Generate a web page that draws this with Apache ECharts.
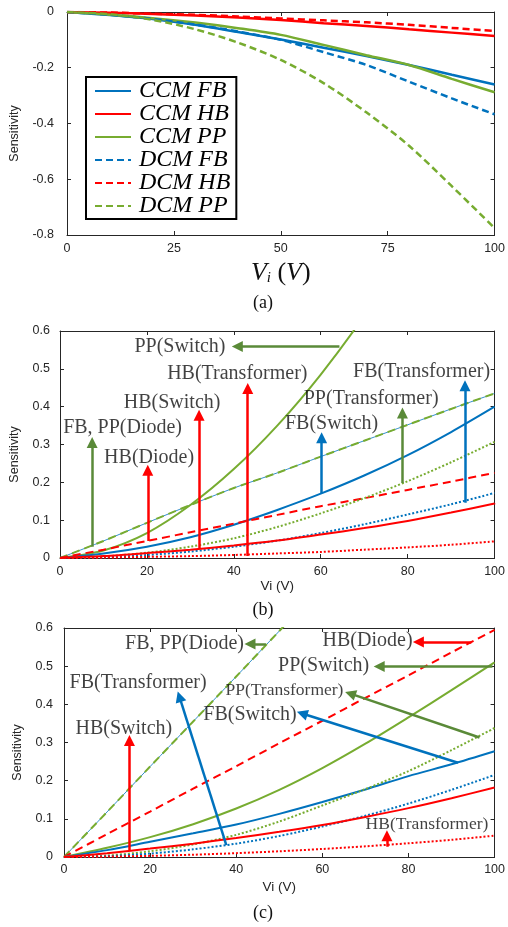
<!DOCTYPE html>
<html><head><meta charset="utf-8">
<script src="https://cdn.jsdelivr.net/npm/echarts@6/dist/echarts.min.js"></script>
<style>html,body{margin:0;padding:0;background:#fff}#c{width:508px;height:927px}</style>
</head><body><div id="c"></div>
<script>
// ---------- data ----------
const vi = [0,10,20,30,40,50,60,70,80,90,100];
// panel (a)
const aCcmFB = [0,-0.011,-0.025,-0.046,-0.072,-0.099,-0.128,-0.158,-0.19,-0.225,-0.26];
const aCcmHB = [0,-0.003,-0.007,-0.013,-0.02,-0.029,-0.04,-0.05,-0.062,-0.074,-0.086];
const aCcmPP = [0,-0.01,-0.022,-0.038,-0.058,-0.082,-0.118,-0.155,-0.19,-0.24,-0.288];
const aDcmFB = [0,-0.01,-0.025,-0.045,-0.07,-0.1,-0.144,-0.19,-0.25,-0.31,-0.367];
const aDcmHB = [0,-0.002,-0.006,-0.01,-0.016,-0.023,-0.03,-0.037,-0.046,-0.057,-0.068];
const aDcmPP = [0,-0.008,-0.028,-0.062,-0.11,-0.172,-0.255,-0.36,-0.48,-0.625,-0.775];
// panel (b)
const bCcmPP = [0,0.02,0.066,0.14,0.235,0.35,0.485,0.64,0.815,1.01,1.225];
const bDcmPP = [0,0.045,0.093,0.14,0.185,0.225,0.268,0.31,0.352,0.394,0.435];
const bCcmFB = [0,0.012,0.03,0.055,0.088,0.127,0.17,0.218,0.272,0.333,0.4];
const bDcmHB = [0,0.022,0.045,0.068,0.091,0.114,0.137,0.158,0.18,0.202,0.225];
const bDotPP = [0,0.004,0.014,0.03,0.052,0.082,0.118,0.158,0.203,0.253,0.307];
const bDotFB = [0,0.002,0.008,0.017,0.03,0.046,0.066,0.089,0.115,0.142,0.172];
const bCcmHB = [0,0.005,0.013,0.022,0.033,0.046,0.062,0.079,0.098,0.12,0.144];
const bDotHB = [0,0.001,0.003,0.005,0.008,0.012,0.016,0.022,0.028,0.035,0.044];
// panel (c)
const cDcmPP = [0,0.118,0.237,0.355,0.473,0.592,0.71,0.83,0.95,1.065,1.18];
const cDcmHB = [0,0.06,0.119,0.179,0.238,0.298,0.357,0.417,0.476,0.536,0.595];
const cCcmPP = [0,0.024,0.052,0.086,0.127,0.176,0.233,0.297,0.366,0.437,0.51];
const cCcmFB = [0,0.018,0.04,0.062,0.085,0.113,0.144,0.177,0.212,0.243,0.277];
const cDotPP = [0,0.004,0.015,0.033,0.058,0.093,0.135,0.178,0.225,0.28,0.338];
const cDotFB = [0,0.002,0.009,0.02,0.035,0.055,0.08,0.108,0.14,0.176,0.215];
const cCcmHB = [0,0.01,0.022,0.035,0.05,0.066,0.084,0.105,0.128,0.154,0.182];
const cDotHB = [0,0.001,0.003,0.006,0.01,0.015,0.021,0.028,0.036,0.045,0.056];
// annotation arrows: [type, fromX, fromY, toX, toY]
const arrowsB = [
  ['pp',7.4,0.03,7.4,0.305],
  ['hb',20.2,0.045,20.2,0.232],
  ['hb',32,0.026,32,0.377],
  ['hb',43.2,0.005,43.2,0.448],
  ['pp',64.3,0.559,40.8,0.559],
  ['fb',60.2,0.172,60.2,0.318],
  ['pp',78.8,0.198,78.8,0.383],
  ['fb',93.2,0.146,93.2,0.455]
];
const labelsB = [
  ['FB, PP(Diode)',14.4,0.344],['HB(Diode)',20.5,0.265],['HB(Switch)',25.8,0.41],
  ['HB(Transformer)',40.8,0.487],['PP(Switch)',27.6,0.559],['FB(Switch)',62.5,0.355],
  ['PP(Transformer)',71.6,0.42],['FB(Transformer)',83.2,0.491]
];
const arrowsC = [
  ['pp',46.9,0.558,43.2,0.558],
  ['hb',94.6,0.563,82.3,0.563],
  ['pp',99.5,0.499,73.2,0.499],
  ['pp',96.5,0.313,66.5,0.428],
  ['fb',37.7,0.031,26.8,0.42],
  ['fb',91.5,0.247,55.3,0.376],
  ['hb',15.2,0.018,15.2,0.305],
  ['hb',75,0.027,75,0.056]
];
const labelsC = [
  ['FB, PP(Diode)',28,0.558],['HB(Diode)',70.5,0.566],['PP(Switch)',60.3,0.5],
  ['FB(Transformer)',17.2,0.457],['FB(Switch)',43.2,0.374],['HB(Switch)',13.9,0.337]
];
const labelsCSmall = [['PP(Transformer)',51.2,0.437],['HB(Transformer)',84.3,0.086]];
const legendNames = ['CCM FB','CCM HB','CCM PP','DCM FB','DCM HB','DCM PP'];

// ---------- styles ----------
const BLUE='#0072BD', RED='#FF0000', GREEN='#77AC30';
const ARROW = {fb:'#0072BD', hb:'#FF0000', pp:'#5A8A38'};
const AX='#262626';
const SERIF='"Liberation Serif","Times New Roman",serif';
const SANS='"Liberation Sans",Arial,sans-serif';

const pts = arr => vi.map((x,i)=>[x,arr[i]]);
function line(name, arr, g, color, type, width){
  return {name, type:'line', xAxisIndex:g*2, yAxisIndex:g*2, data:pts(arr), smooth:0.3,
    symbol:'none', showSymbol:false, clip:true, silent:true, z:2,
    lineStyle:{color, width, type}, itemStyle:{color}};
}
const DASH=[7,4], DOT=[2,2];
function arrows(list, g){
  return ['fb','hb','pp'].map(k=>({type:'lines', coordinateSystem:'cartesian2d',
    xAxisIndex:g*2, yAxisIndex:g*2, z:5, silent:true,
    symbol:['none','triangle'], symbolSize:[10,11],
    lineStyle:{color:ARROW[k], width:2.5, opacity:1, curveness:0},
    data:list.filter(a=>a[0]===k).map(a=>({coords:[[a[1],a[2]],[a[3],a[4]]]}))}));
}
function labels(list, g, size){
  return {type:'scatter', xAxisIndex:g*2, yAxisIndex:g*2, symbolSize:1, z:6, silent:true,
    clip:false,
    itemStyle:{color:'rgba(0,0,0,0)'},
    label:{show:true, position:'inside', formatter:p=>p.name, color:'#111',
      fontFamily:SERIF, fontSize:size},
    data:list.map(l=>({name:l[0], value:[l[1],l[2]]}))};
}
function axesFor(g, xInt, yMin, yMax, yInt, lblMarginX, lblMarginY){
  const base = {type:'value', gridIndex:g, axisLine:{show:true, onZero:false, lineStyle:{color:AX,width:1}},
    axisTick:{show:true, inside:true, length:4, lineStyle:{color:AX}}, splitLine:{show:false}};
  const lab = m=>({show:true, color:AX, fontFamily:SANS, fontSize:12.5, margin:m,
    formatter:v=>Math.abs(v)<1e-9?'0':(Number.isInteger(v)?String(v):v.toFixed(1))});
  const xs=[Object.assign({},base,{position:'bottom', min:0,max:100,interval:xInt, axisLabel:lab(lblMarginX)}),
            Object.assign({},base,{position:'top', min:0,max:100,interval:xInt, axisLabel:{show:false}})];
  const ys=[Object.assign({},base,{position:'left', min:yMin,max:yMax,interval:yInt, axisLabel:lab(lblMarginY)}),
            Object.assign({},base,{position:'right', min:yMin,max:yMax,interval:yInt, axisLabel:{show:false}})];
  return {xs, ys};
}
const A=axesFor(0,25,-0.8,0,0.2,7,13), B=axesFor(1,20,0,0.6,0.1,7,10), C=axesFor(2,20,0,0.6,0.1,6,11);
const nameY = gap=>({name:'Sensitivity', nameLocation:'middle', nameGap:gap,
  nameTextStyle:{fontFamily:SANS, fontSize:12.5, color:AX, padding:[0,20,0,0]}});
Object.assign(A.ys[0], nameY(46));
Object.assign(B.ys[0], nameY(39));
Object.assign(C.ys[0], nameY(40));
Object.assign(A.xs[0], {name:'{v|V}{s|i}{t| (}{v|V}{t|)}', nameLocation:'middle', nameGap:25,
  nameTextStyle:{rich:{
    v:{fontFamily:SERIF, fontStyle:'italic', fontSize:26, color:'#111', lineHeight:26},
    s:{fontFamily:SERIF, fontStyle:'italic', fontSize:15, color:'#111', verticalAlign:'bottom', lineHeight:15},
    t:{fontFamily:SERIF, fontSize:26, color:'#111', lineHeight:26}}}});
Object.assign(B.xs[0], {name:'Vi (V)', nameLocation:'middle', nameGap:21, nameTextStyle:{fontFamily:SANS,fontSize:13.5,color:AX}});
Object.assign(C.xs[0], {name:'Vi (V)', nameLocation:'middle', nameGap:23, nameTextStyle:{fontFamily:SANS,fontSize:13.5,color:AX}});

const series = [
  line('CCM FB', aCcmFB, 0, BLUE, 'solid', 2.5),
  line('CCM HB', aCcmHB, 0, RED, 'solid', 2.5),
  line('CCM PP', aCcmPP, 0, GREEN, 'solid', 2.5),
  line('DCM FB', aDcmFB, 0, BLUE, DASH, 2.5),
  line('DCM HB', aDcmHB, 0, RED, DASH, 2.5),
  line('DCM PP', aDcmPP, 0, GREEN, DASH, 2.5),

  line('b FB diode', bDcmPP, 1, BLUE, 'solid', 0.8),
  line('b DCM PP', bDcmPP, 1, GREEN, [8,5], 2),
  line('b CCM PP', bCcmPP, 1, GREEN, 'solid', 2),
  line('b CCM FB', bCcmFB, 1, BLUE, 'solid', 2),
  line('b DCM HB', bDcmHB, 1, RED, [8,5], 2),
  line('b dot PP', bDotPP, 1, GREEN, DOT, 2),
  line('b dot FB', bDotFB, 1, BLUE, DOT, 2),
  line('b CCM HB', bCcmHB, 1, RED, 'solid', 2),
  line('b dot HB', bDotHB, 1, RED, DOT, 2),
  ...arrows(arrowsB, 1),
  labels(labelsB, 1, 20),

  line('c FB diode', cDcmPP, 2, BLUE, 'solid', 0.8),
  line('c DCM PP', cDcmPP, 2, GREEN, [8,5], 2),
  line('c DCM HB', cDcmHB, 2, RED, [8,5], 2),
  line('c CCM PP', cCcmPP, 2, GREEN, 'solid', 2),
  line('c CCM FB', cCcmFB, 2, BLUE, 'solid', 2),
  line('c dot PP', cDotPP, 2, GREEN, DOT, 2),
  line('c dot FB', cDotFB, 2, BLUE, DOT, 2),
  line('c CCM HB', cCcmHB, 2, RED, 'solid', 2),
  line('c dot HB', cDotHB, 2, RED, DOT, 2),
  ...arrows(arrowsC, 2),
  labels(labelsC, 2, 20),
  labels(labelsCSmall, 2, 17.5)
];

const chart = echarts.init(document.getElementById('c'), null, {renderer:'canvas'});
chart.setOption({
  backgroundColor:'#fff',
  animation:false,
  grid:[
    {left:67, right:7, top:12, height:223},
    {left:60, right:8, top:331, height:227},
    {left:64, right:6, top:628, height:229}
  ],
  xAxis:[...A.xs, ...B.xs, ...C.xs],
  yAxis:[...A.ys, ...B.ys, ...C.ys],
  legend:{orient:'vertical', left:86, top:77, data:legendNames, itemWidth:36, itemHeight:12, itemGap:-1,
    padding:[2,6,1,8], borderColor:'#000', borderWidth:2, backgroundColor:'#fff', selectedMode:false,
    itemStyle:{opacity:0},
    textStyle:{fontFamily:SERIF, fontStyle:'italic', fontSize:24, color:'#000', lineHeight:20, padding:[0,0,0,3]}},
  graphic:[
    {type:'text', x:263, y:303, style:{text:'(a)', font:'18px '+SERIF, fill:'#111', textAlign:'center', textVerticalAlign:'middle'}},
    {type:'text', x:263, y:610, style:{text:'(b)', font:'18px '+SERIF, fill:'#111', textAlign:'center', textVerticalAlign:'middle'}},
    {type:'text', x:263, y:913, style:{text:'(c)', font:'18px '+SERIF, fill:'#111', textAlign:'center', textVerticalAlign:'middle'}}
  ],
  series
});
</script></body></html>
